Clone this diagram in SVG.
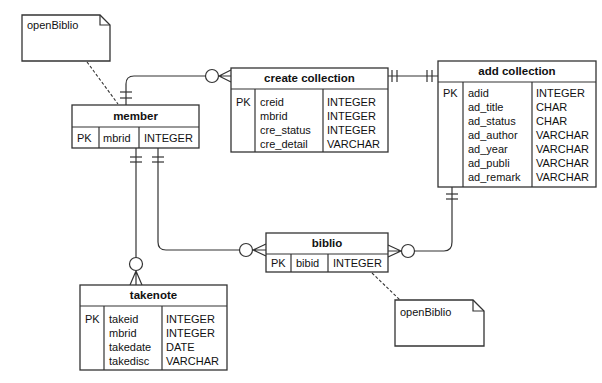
<svg xmlns="http://www.w3.org/2000/svg" width="602" height="383" viewBox="0 0 602 383">
<style>
.box{fill:#fff;stroke:#333;stroke-width:1.3}
.ln{fill:none;stroke:#333;stroke-width:1.2}
.dash{fill:none;stroke:#333;stroke-width:1.1;stroke-dasharray:3,2}
.circ{fill:#fff;stroke:#333;stroke-width:1.2}
text{font-family:"Liberation Sans",Arial,sans-serif;font-size:11px;fill:#111}
.h{font-weight:bold;font-size:11.5px;text-anchor:middle}
</style>
<rect width="602" height="383" fill="#fff"/>
<g id="connectors">
<path class="dash" d="M87 62 L118 104"/>
<path class="dash" d="M372 273 L400 300"/>
<!-- member - create collection -->
<path class="ln" d="M126 105 L126 84 Q126 76 134 76 L205 76"/>
<line class="ln" x1="120" y1="92" x2="132" y2="92"/>
<line class="ln" x1="120" y1="98" x2="132" y2="98"/>
<circle class="circ" cx="212" cy="76" r="6.5"/>
<path class="ln" d="M219 76 L231 70 M219 76 L231 76 M219 76 L231 82"/>
<!-- create collection - add collection -->
<line class="ln" x1="388" y1="76" x2="438" y2="76"/>
<line class="ln" x1="392" y1="70" x2="392" y2="82"/>
<line class="ln" x1="397" y1="70" x2="397" y2="82"/>
<line class="ln" x1="427" y1="70" x2="427" y2="82"/>
<line class="ln" x1="432" y1="70" x2="432" y2="82"/>
<!-- member - takenote -->
<line class="ln" x1="136" y1="148" x2="136" y2="258"/>
<line class="ln" x1="130" y1="157" x2="142" y2="157"/>
<line class="ln" x1="130" y1="162" x2="142" y2="162"/>
<circle class="circ" cx="136" cy="264" r="6.5"/>
<path class="ln" d="M136 271 L130 285 M136 271 L136 285 M136 271 L142 285"/>
<!-- member - biblio -->
<path class="ln" d="M158 148 L158 242 Q158 250 166 250 L240 250"/>
<line class="ln" x1="152" y1="157" x2="164" y2="157"/>
<line class="ln" x1="152" y1="162" x2="164" y2="162"/>
<circle class="circ" cx="246" cy="250" r="6.5"/>
<path class="ln" d="M253 250 L266 244 M253 250 L266 250 M253 250 L266 256"/>
<!-- add collection - biblio -->
<path class="ln" d="M452 187 L452 242 Q452 251 444 251 L415 251"/>
<line class="ln" x1="446" y1="194" x2="458" y2="194"/>
<line class="ln" x1="446" y1="199" x2="458" y2="199"/>
<circle class="circ" cx="408" cy="251" r="6.5"/>
<path class="ln" d="M401 251 L388 245 M401 251 L388 251 M401 251 L388 257"/>
</g>
<g id="note1">
<path class="box" d="M22 15 L100 15 L110 25 L110 61 L22 61 Z"/>
<path class="ln" d="M100 15 L100 25 L110 25"/>
<text x="27" y="29">openBiblio</text>
</g>
<g id="note2">
<path class="box" d="M395 300 L473 300 L484 311 L484 346 L395 346 Z"/>
<path class="ln" d="M473 300 L473 311 L484 311"/>
<text x="400" y="316">openBiblio</text>
</g>
<g id="member">
<rect class="box" x="72" y="105" width="127" height="43"/>
<line class="ln" x1="72" y1="127" x2="199" y2="127"/>
<line class="ln" x1="99" y1="127" x2="99" y2="148"/>
<line class="ln" x1="139" y1="127" x2="139" y2="148"/>
<text class="h" x="135.5" y="120">member</text>
<text x="77" y="142">PK</text>
<text x="103" y="142">mbrid</text>
<text x="144" y="142">INTEGER</text>
</g>
<g id="create_collection">
<rect class="box" x="231" y="68" width="157" height="84"/>
<line class="ln" x1="231" y1="89" x2="388" y2="89"/>
<line class="ln" x1="255" y1="89" x2="255" y2="152"/>
<line class="ln" x1="323" y1="89" x2="323" y2="152"/>
<text class="h" x="309.5" y="82">create collection</text>
<text x="236" y="106">PK</text>
<text x="260" y="106">creid</text>
<text x="260" y="120">mbrid</text>
<text x="260" y="134">cre_status</text>
<text x="260" y="148">cre_detail</text>
<text x="327" y="106">INTEGER</text>
<text x="327" y="120">INTEGER</text>
<text x="327" y="134">INTEGER</text>
<text x="327" y="148">VARCHAR</text>
</g>
<g id="add_collection">
<rect class="box" x="438" y="61" width="158" height="126"/>
<line class="ln" x1="438" y1="82" x2="596" y2="82"/>
<line class="ln" x1="463" y1="82" x2="463" y2="187"/>
<line class="ln" x1="532" y1="82" x2="532" y2="187"/>
<text class="h" x="517" y="75">add collection</text>
<text x="443" y="97">PK</text>
<text x="468" y="97">adid</text>
<text x="468" y="111">ad_title</text>
<text x="468" y="125">ad_status</text>
<text x="468" y="139">ad_author</text>
<text x="468" y="153">ad_year</text>
<text x="468" y="167">ad_publi</text>
<text x="468" y="181">ad_remark</text>
<text x="536" y="97">INTEGER</text>
<text x="536" y="111">CHAR</text>
<text x="536" y="125">CHAR</text>
<text x="536" y="139">VARCHAR</text>
<text x="536" y="153">VARCHAR</text>
<text x="536" y="167">VARCHAR</text>
<text x="536" y="181">VARCHAR</text>
</g>
<g id="biblio">
<rect class="box" x="266" y="233" width="122" height="39"/>
<line class="ln" x1="266" y1="254" x2="388" y2="254"/>
<line class="ln" x1="291" y1="254" x2="291" y2="272"/>
<line class="ln" x1="328" y1="254" x2="328" y2="272"/>
<text class="h" x="327" y="247">biblio</text>
<text x="271" y="267">PK</text>
<text x="296" y="267">bibid</text>
<text x="333" y="267">INTEGER</text>
</g>
<g id="takenote">
<rect class="box" x="80" y="285" width="147" height="85"/>
<line class="ln" x1="80" y1="306" x2="227" y2="306"/>
<line class="ln" x1="104" y1="306" x2="104" y2="370"/>
<line class="ln" x1="162" y1="306" x2="162" y2="370"/>
<text class="h" x="153.5" y="299">takenote</text>
<text x="85" y="323">PK</text>
<text x="109" y="323">takeid</text>
<text x="109" y="337">mbrid</text>
<text x="109" y="351">takedate</text>
<text x="109" y="365">takedisc</text>
<text x="166" y="323">INTEGER</text>
<text x="166" y="337">INTEGER</text>
<text x="166" y="351">DATE</text>
<text x="166" y="365">VARCHAR</text>
</g>
</svg>
